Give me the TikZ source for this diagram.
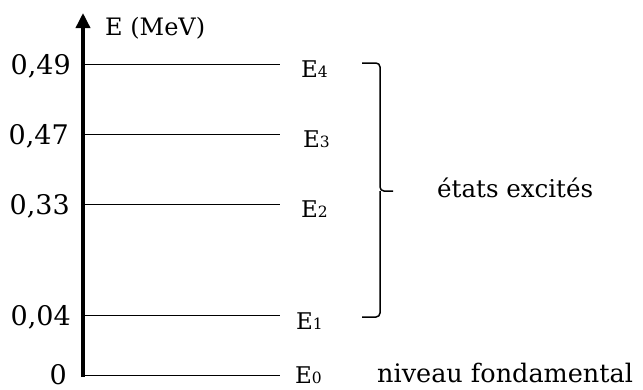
\documentclass[tikz,border=0pt]{standalone}
\usepackage{fontspec}
\setmainfont{DejaVu Serif}
\usetikzlibrary{arrows.meta}
\tikzset{
  level/.style={line width=1pt},
  val/.style={anchor=base east, inner sep=0pt, font=\fontsize{27}{27}\selectfont},
  elab/.style={anchor=base west, inner sep=0pt, font=\fontsize{23}{23}\selectfont},
  txt/.style={anchor=base west, inner sep=0pt, font=\fontsize{24.5}{26}\selectfont},
}
\newcommand{\sbx}[1]{{\fontsize{15.5}{15.5}\selectfont #1}}
\begin{document}
\begin{tikzpicture}[x=1pt,y=-1pt]
\useasboundingbox (0,0) rectangle (643,389);
% axis
\coordinate (ax0) at (83,377);
\coordinate (ax1) at (83,13);
\draw[line width=3.5pt, -{Triangle[width=14pt,length=15pt]}] (ax0) -- (ax1);
\node[anchor=base west, inner sep=0pt, font=\fontsize{24}{24}\selectfont] (unit) at (105,35) {E (MeV)};
% levels
\foreach \n/\y in {4/64,3/134,2/204,1/315,0/375}{
  \coordinate (l\n a) at (83,\y);
  \coordinate (l\n b) at (280,\y);
  \draw[level] (l\n a) -- (l\n b);
}
% values
\node[val] (v4) at (71,74) {0,49};
\node[val] (v3) at (69,144) {0,47};
\node[val] (v2) at (70,214) {0,33};
\node[val] (v1) at (71,325) {0,04};
\node[val] (v0) at (67,384) {0};
% E labels
\node[elab] (e4) at (301,77) {E\sbx{4}};
\node[elab] (e3) at (303,147) {E\sbx{3}};
\node[elab] (e2) at (301,217) {E\sbx{2}};
\node[elab] (e1) at (296,329) {E\sbx{1}};
\node[elab] (e0) at (295,383) {E\sbx{0}};
% brace
\coordinate (bt) at (362,63);
\coordinate (bm) at (393,191);
\coordinate (bb) at (362,317);
\draw[line width=1.5pt, rounded corners=4pt] (bt) -- (380,63) -- (380,191) -- (bm);
\draw[line width=1.5pt, rounded corners=4pt] (bb) -- (380,317) -- (380,191);
\node[txt] (exc) at (437,197) {états excités};
\node[txt, font=\fontsize{25.5}{26}\selectfont] (fond) at (377,382) {niveau fondamental};
\end{tikzpicture}
\end{document}
